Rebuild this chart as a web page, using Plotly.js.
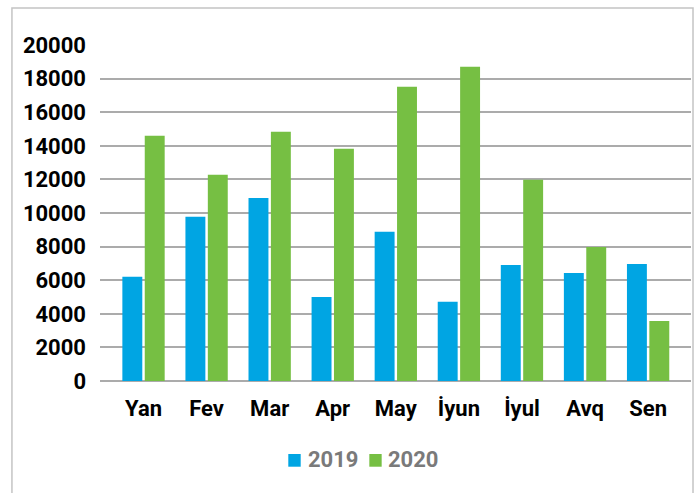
<!DOCTYPE html>
<html>
<head>
<meta charset="utf-8">
<script src="https://cdn.plot.ly/plotly-3.0.1.min.js"></script>
<style>html,body{margin:0;padding:0;background:#fff;}#chart{width:699px;height:493px;}</style>
</head>
<body>
<div id="chart"></div>
<script>
const months = ["Yan", "Fev", "Mar", "Apr", "May", "İyun", "İyul", "Avq", "Sen"];
const values2019 = [6200, 9770, 10900, 5000, 8880, 4710, 6910, 6430, 6970];
const values2020 = [14600, 12270, 14840, 13820, 17520, 18710, 11980, 7980, 3570];
const yTicks = [0, 2000, 4000, 6000, 8000, 10000, 12000, 14000, 16000, 18000, 20000];
const seriesNames = ["2019", "2020"];
const seriesColors = ["#00a5e3", "#76bf43"];

const fam = "Roboto, 'Liberation Sans', Arial, sans-serif";
const data = [
  {type: "bar", name: seriesNames[0], x: months, y: values2019, marker: {color: seriesColors[0]}, showlegend: false},
  {type: "bar", name: seriesNames[1], x: months, y: values2020, marker: {color: seriesColors[1]}, showlegend: false}
];

// custom legend (paper coordinates), mirroring the reference layout
const legSquares = [[0.3186, 0.3396], [0.4557, 0.4766]];
const legTextX = [0.3480, 0.4844];
const shapes = [{
  type: "rect", xref: "paper", yref: "paper",
  x0: -0.149, x1: 1.0034, y0: -0.4, y1: 1.110,
  line: {color: "#c4c4c4", width: 1.5}, fillcolor: "rgba(0,0,0,0)", layer: "below"
}];
const annotations = [];
seriesNames.forEach((nm, i) => {
  shapes.push({type: "rect", xref: "paper", yref: "paper",
    x0: legSquares[i][0], x1: legSquares[i][1], y0: -0.2551, y1: -0.2173,
    line: {width: 0}, fillcolor: seriesColors[i]});
  annotations.push({xref: "paper", yref: "paper", x: legTextX[i], y: -0.2336,
    xanchor: "left", yanchor: "middle", showarrow: false, text: nm,
    font: {family: fam, size: 22, color: "#7a7a7a", weight: "bold"}});
});

const layout = {
  width: 699, height: 493,
  margin: {l: 100, r: 8, t: 45, b: 112},
  paper_bgcolor: "#fff", plot_bgcolor: "#fff",
  font: {family: fam},
  showlegend: false,
  barmode: "group", bargap: 0.29, bargroupgap: 0.11,
  xaxis: {
    type: "category", range: [-0.69, 8.68], showgrid: false, zeroline: false,
    showline: false, ticks: "", ticklabelstandoff: 12,
    tickfont: {family: fam, size: 22, color: "#000", weight: "bold"}
  },
  yaxis: {
    range: [0, 20000], tickvals: yTicks, ticktext: yTicks.map(String),
    showgrid: true, gridcolor: "#ababab", gridwidth: 2, zeroline: true,
    zerolinecolor: "#ababab", zerolinewidth: 2, showline: false, ticks: "",
    ticklabelstandoff: 13,
    tickfont: {family: fam, size: 22, color: "#000", weight: "bold"}
  },
  shapes: shapes,
  annotations: annotations
};
Plotly.newPlot("chart", data, layout, {displayModeBar: false, staticPlot: true});
</script>
</body>
</html>
